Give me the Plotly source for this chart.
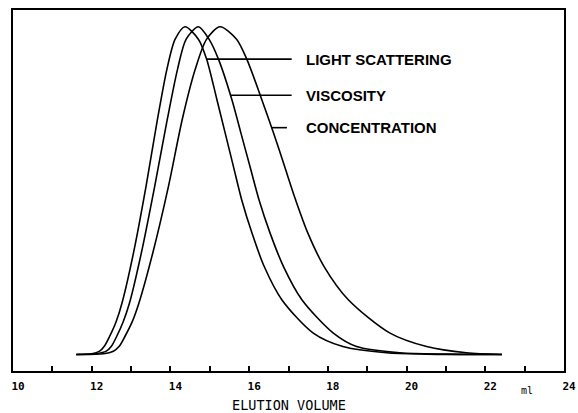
import plotly.graph_objects as go

# Elution volume (ml) and relative detector response (% of peak)
ls_x = [11.61, 12.0, 12.2, 12.32, 12.45, 12.62, 12.77, 13.06, 13.38, 13.67, 13.91, 14.12, 14.37,
        14.71, 14.92, 15.18, 15.39, 15.60, 15.81, 16.07, 16.38, 16.83, 17.63, 18.38,
        19.49, 20.5, 22.42]
ls_y = [0, 0.2, 1.0, 2.5, 5.4, 10.0, 15.7, 30.9, 51.3, 71.7, 87.0, 96.2, 100,
        96.2, 90.1, 77.8, 67.6, 57.4, 47.2, 37.1, 26.9, 16.7, 6.5, 2.4,
        0.5, 0.1, 0]

visc_x = [11.61, 12.1, 12.37, 12.5, 12.63, 12.8, 12.96, 13.26, 13.60, 13.92, 14.18, 14.40, 14.71,
          14.98, 15.22, 15.56, 15.79, 16.02, 16.25, 16.53, 16.87, 17.34, 18.14, 18.73,
          19.83, 21.0, 22.42]
visc_y = [0, 0.2, 1.0, 2.5, 5.4, 10.0, 15.7, 30.9, 51.3, 71.7, 87.0, 96.2, 100,
          96.2, 90.1, 77.8, 67.6, 57.4, 47.2, 37.1, 26.9, 16.7, 6.5, 2.4,
          0.5, 0.1, 0]

conc_x = [11.61, 12.3, 12.55, 12.7, 12.84, 13.03, 13.2, 13.55, 13.95, 14.30, 14.63, 14.92, 15.26,
          15.68, 15.94, 16.32, 16.62, 16.90, 17.18, 17.49, 17.90, 18.52, 19.58, 20.51,
          21.52, 22.42]
conc_y = [0, 0.2, 1.0, 2.5, 5.4, 10.0, 15.7, 30.9, 51.3, 71.7, 87.0, 96.2, 100,
          96.2, 90.1, 77.8, 67.6, 57.4, 47.2, 37.1, 26.9, 16.7, 6.5, 2.4,
          0.5, 0]

label_names = ["LIGHT SCATTERING", "VISCOSITY", "CONCENTRATION"]
leader_x0 = [14.92, 15.53, 16.57]
leader_x1 = [17.08, 17.08, 16.96]
label_y = [90.1, 79.1, 69.2]
label_x = 17.46

tick_vals = list(range(10, 25, 2))
tick_text = [str(v) for v in tick_vals]

fig = go.Figure()
for xs, ys in [(ls_x, ls_y), (visc_x, visc_y), (conc_x, conc_y)]:
    fig.add_trace(go.Scatter(x=xs, y=ys, mode="lines",
                             line=dict(color="black", width=1.6, shape="spline", smoothing=0.8),
                             hoverinfo="skip", showlegend=False))

for name, x0, x1, yv in zip(label_names, leader_x0, leader_x1, label_y):
    fig.add_trace(go.Scatter(x=[x0, x1], y=[yv, yv], mode="lines",
                             line=dict(color="black", width=1.6),
                             hoverinfo="skip", showlegend=False))
    fig.add_annotation(x=label_x, y=yv, text=name, showarrow=False,
                       xanchor="left", yanchor="middle", xshift=-3,
                       font=dict(family="Liberation Sans, Arial", size=15, color="black", weight="bold"))

fig.add_annotation(x=23.05, y=0, yref="paper", text="ml", showarrow=False,
                   xanchor="center", yanchor="middle", yshift=-19,
                   font=dict(family="DejaVu Sans Mono", size=10, color="#000000"))

fig.add_annotation(x=0.5, y=0, xref="paper", yref="paper", text="ELUTION VOLUME",
                   showarrow=False, xanchor="center", yanchor="middle", yshift=-34,
                   font=dict(family="DejaVu Sans Mono", size=13.5, color="black"))

fig.update_xaxes(range=[10, 24], tickvals=tick_vals, ticktext=tick_text,
                 ticks="inside", ticklen=5, tickwidth=1.5, tickcolor="black",
                 minor=dict(dtick=1, ticks="inside", ticklen=5, tickwidth=1.5, tickcolor="black"),
                 showline=True, linewidth=2, linecolor="black", mirror=True,
                 showgrid=False, zeroline=False, automargin=False,
                 ticklabelshift=5, ticklabelstandoff=4,
                 tickfont=dict(family="DejaVu Sans Mono", size=11, color="black", weight="bold"))
fig.update_yaxes(range=[-5.05, 105.1], showticklabels=False, ticks="",
                 showline=True, linewidth=1.5, linecolor="black", mirror=True,
                 showgrid=False, zeroline=False, automargin=False)

fig.update_layout(width=578, height=413, margin=dict(l=13, r=14, t=10, b=42),
                  plot_bgcolor="white", paper_bgcolor="white")

fig.write_html("out.html")
